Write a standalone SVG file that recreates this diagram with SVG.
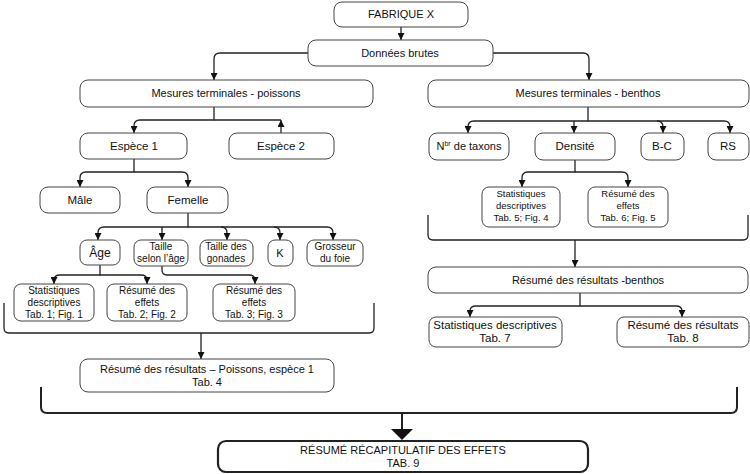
<svg xmlns="http://www.w3.org/2000/svg" width="750" height="474" viewBox="0 0 750 474">
<defs>
<marker id="a" markerUnits="userSpaceOnUse" markerWidth="7" markerHeight="7" refX="7" refY="3.5" orient="auto"><path d="M0,0 L7,3.5 L0,7 z" fill="#111"/></marker>
<style>
.b{fill:#fff;stroke:#444;stroke-width:1}
.t{font-family:"Liberation Sans",Arial,sans-serif;font-size:11px;fill:#111;text-anchor:middle}
.s{font-size:10px}
.r{font-size:9.5px}
.m{font-size:10px}
.l{font-size:11.5px}
.c{fill:none;stroke:#222;stroke-width:1.3}
.k{fill:none;stroke:#222;stroke-width:2}
</style>
</defs>
<rect width="750" height="474" fill="#fff"/>
<g id="connectors">
<path class="c" d="M401,27 V40" marker-end="url(#a)"/>
<path class="c" d="M308,53 H220 Q214,53 214,59 V80" marker-end="url(#a)"/>
<path class="c" d="M493,53 H583 Q589,53 589,59 V80" marker-end="url(#a)"/>
<path class="c" d="M214,107 V120 H140 Q134,120 134,126 V133" marker-end="url(#a)"/>
<path class="c" d="M214,120 H281"/>
<path class="c" d="M281,133 V120" marker-end="url(#a)"/>
<path class="c" d="M588,107 V121 H474 Q468,121 468,127 V133" marker-end="url(#a)"/>
<path class="c" d="M588,121 H724 Q730,121 730,127 V133" marker-end="url(#a)"/>
<path class="c" d="M574,121 V133" marker-end="url(#a)"/>
<path class="c" d="M657,121 Q663,121 663,127 V133" marker-end="url(#a)"/>
<path class="c" d="M134,159 V172 H86 Q80,172 80,178 V187" marker-end="url(#a)"/>
<path class="c" d="M134,172 H182 Q188,172 188,178 V187" marker-end="url(#a)"/>
<path class="c" d="M188,213 V227 H104 Q98,227 98,233 V240" marker-end="url(#a)"/>
<path class="c" d="M188,227 H327 Q333,227 333,233 V240" marker-end="url(#a)"/>
<path class="c" d="M162,227 V240" marker-end="url(#a)"/>
<path class="c" d="M221,227 Q227,227 227,233 V240" marker-end="url(#a)"/>
<path class="c" d="M274,227 Q280,227 280,233 V240" marker-end="url(#a)"/>
<path class="c" d="M100,265 V275 H60 Q54,275 54,280 V284" marker-end="url(#a)"/>
<path class="c" d="M100,275 H141 Q147,275 147,280 V284" marker-end="url(#a)"/>
<path class="c" d="M162,266 V270 Q162,275 167,275 H249 Q255,275 255,280 V284" marker-end="url(#a)"/>
<path class="c" d="M575,160 V172 H528 Q522,172 522,178 V187" marker-end="url(#a)"/>
<path class="c" d="M575,172 H622 Q628,172 628,178 V187" marker-end="url(#a)"/>
<path class="c" d="M4,303 V328 Q4,333 9,333 H369 Q374,333 374,328 V303"/>
<path class="c" d="M201,333 V359" marker-end="url(#a)"/>
<path class="c" d="M428,215 V235 Q428,240 433,240 H743 Q748,240 748,235 V215"/>
<path class="c" d="M575,240 V267" marker-end="url(#a)"/>
<path class="c" d="M580,293 V306 H476 Q470,306 470,311 V317" marker-end="url(#a)"/>
<path class="c" d="M580,306 H676 Q682,306 682,311 V317" marker-end="url(#a)"/>
<path class="k" d="M41,387 V407 Q41,413 47,413 H731 Q737,413 737,407 V387"/>
<path class="k" d="M402,413 V431"/>
<polygon points="391,429 413,429 402,440" fill="#111"/>
</g>
<g id="fabrique"><rect class="b" x="334" y="2" width="134" height="25" rx="8"/><text class="t" x="401" y="18">FABRIQUE X</text></g>
<g id="donnees"><rect class="b" x="308" y="40" width="185" height="26" rx="8"/><text class="t" x="400" y="57">Données brutes</text></g>
<g id="mes-poissons"><rect class="b" x="80" y="80" width="293" height="27" rx="8"/><text class="t" x="226" y="97">Mesures terminales - poissons</text></g>
<g id="mes-benthos"><rect class="b" x="428" y="80" width="321" height="27" rx="8"/><text class="t" x="588" y="97">Mesures terminales - benthos</text></g>
<g id="espece1"><rect class="b" x="80" y="133" width="107" height="26" rx="8"/><text class="t l" x="134" y="150">Espèce 1</text></g>
<g id="espece2"><rect class="b" x="229" y="133" width="105" height="26" rx="8"/><text class="t l" x="281" y="150">Espèce 2</text></g>
<g id="nbr"><rect class="b" x="429" y="133" width="80" height="27" rx="8"/><text class="t" x="469" y="150">N<tspan font-size="7" dy="-4">br</tspan><tspan dy="4"> de taxons</tspan></text></g>
<g id="densite"><rect class="b" x="535" y="133" width="80" height="27" rx="8"/><text class="t l" x="575" y="150">Densité</text></g>
<g id="bc"><rect class="b" x="641" y="133" width="43" height="27" rx="8"/><text class="t l" x="662" y="150">B-C</text></g>
<g id="rs"><rect class="b" x="708" y="133" width="41" height="27" rx="8"/><text class="t l" x="728" y="150">RS</text></g>
<g id="male"><rect class="b" x="40" y="187" width="80" height="26" rx="8"/><text class="t l" x="80" y="204">Mâle</text></g>
<g id="femelle"><rect class="b" x="147" y="187" width="81" height="26" rx="8"/><text class="t l" x="188" y="204">Femelle</text></g>
<g id="age"><rect class="b" x="80" y="240" width="40" height="25" rx="7"/><text class="t" style="font-size:12px" x="100" y="257">Âge</text></g>
<g id="taille-age"><rect class="b" x="134" y="240" width="54" height="26" rx="7"/><text class="t m" x="161" y="250">Taille</text><text class="t m" x="161" y="262">selon l’âge</text></g>
<g id="taille-gonades"><rect class="b" x="200" y="240" width="53" height="26" rx="7"/><text class="t m" x="226" y="250">Taille des</text><text class="t m" x="226" y="262">gonades</text></g>
<g id="k"><rect class="b" x="268" y="240" width="25" height="26" rx="7"/><text class="t" x="280" y="257">K</text></g>
<g id="foie"><rect class="b" x="307" y="240" width="56" height="26" rx="7"/><text class="t m" x="335" y="250">Grosseur</text><text class="t m" x="335" y="262">du foie</text></g>
<g id="stat1"><rect class="b" x="14" y="284" width="80" height="37" rx="7"/><text class="t s" x="54" y="294">Statistiques</text><text class="t s" x="54" y="306">descriptives</text><text class="t s" x="54" y="318">Tab. 1; Fig. 1</text></g>
<g id="res2"><rect class="b" x="107" y="284" width="80" height="37" rx="7"/><text class="t s" x="147" y="294">Résumé des</text><text class="t s" x="147" y="306">effets</text><text class="t s" x="147" y="318">Tab. 2; Fig. 2</text></g>
<g id="res3"><rect class="b" x="213" y="284" width="82" height="37" rx="7"/><text class="t s" x="254" y="294">Résumé des</text><text class="t s" x="254" y="306">effets</text><text class="t s" x="254" y="318">Tab. 3; Fig. 3</text></g>
<g id="stat5"><rect class="b" x="482" y="187" width="78" height="40" rx="7"/><text class="t r" x="521" y="197">Statistiques</text><text class="t r" x="521" y="209">descriptives</text><text class="t r" x="521" y="221">Tab. 5; Fig. 4</text></g>
<g id="res6"><rect class="b" x="588" y="187" width="80" height="40" rx="7"/><text class="t r" x="628" y="197">Résumé des</text><text class="t r" x="628" y="209">effets</text><text class="t r" x="628" y="221">Tab. 6; Fig. 5</text></g>
<g id="res-benthos"><rect class="b" x="428" y="267" width="320" height="26" rx="8"/><text class="t" x="588" y="284">Résumé des résultats -benthos</text></g>
<g id="stat7"><rect class="b" x="429" y="317" width="133" height="30" rx="7"/><text class="t l" x="495" y="329">Statistiques descriptives</text><text class="t l" x="495" y="342">Tab. 7</text></g>
<g id="res8"><rect class="b" x="617" y="317" width="132" height="30" rx="7"/><text class="t l" x="683" y="329">Résumé des résultats</text><text class="t l" x="683" y="342">Tab. 8</text></g>
<g id="res-poissons"><rect class="b" x="80" y="359" width="254" height="33" rx="8"/><text class="t" x="207" y="373">Résumé des résultats – Poissons, espèce 1</text><text class="t" x="207" y="386">Tab. 4</text></g>
<g id="recap"><rect x="218" y="441" width="370" height="31" rx="8" fill="#fff" stroke="#222" stroke-width="2.2"/><text class="t" x="403" y="454">RÉSUMÉ RÉCAPITULATIF DES EFFETS</text><text class="t" x="403" y="467">TAB. 9</text></g>
</svg>
